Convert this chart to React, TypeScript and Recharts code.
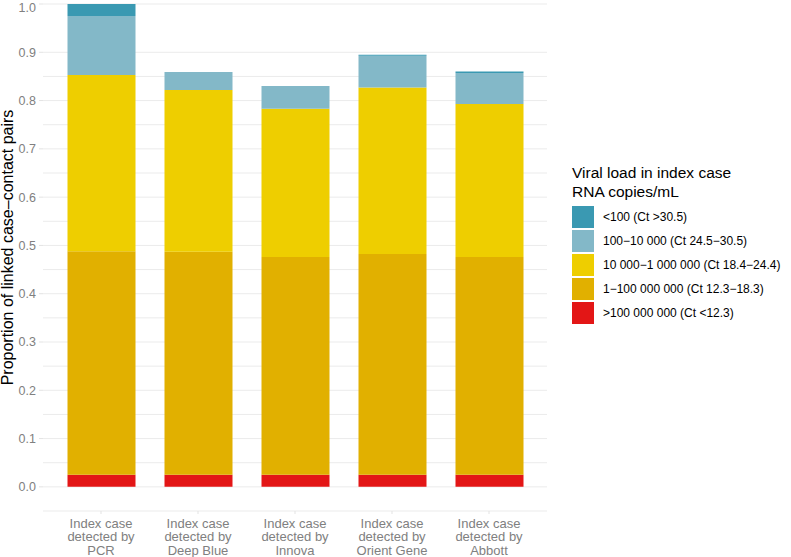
import React from "react"
import { Bar, BarChart, XAxis, YAxis, CartesianGrid, Legend } from "recharts"

// categories (x axis) and stacked shares, bottom to top
const categories = ["PCR", "Deep Blue", "Innova", "Orient Gene", "Abbott"]
const over100M = [0.025, 0.025, 0.025, 0.025, 0.025]
const oneTo100M = [0.463, 0.462, 0.451, 0.457, 0.451]
const tenKTo1M = [0.365, 0.335, 0.307, 0.345, 0.317]
const hundredTo10K = [0.122, 0.037, 0.047, 0.066, 0.064]
const under100 = [0.025, 0, 0, 0.002, 0.003]

const yTicks = [0, 0.1, 0.2, 0.3, 0.4, 0.5, 0.6, 0.7, 0.8, 0.9, 1.0]
const gridTicks = [-0.05, 0, 0.05, 0.1, 0.15, 0.2, 0.25, 0.3, 0.35, 0.4, 0.45, 0.5, 0.55, 0.6, 0.65, 0.7, 0.75, 0.8, 0.85, 0.9, 0.95, 1.0]

const series = [
  { key: "over100M", name: ">100 000 000 (Ct <12.3)", color: "#E31616", values: over100M },
  { key: "oneTo100M", name: "1\u2212100 000 000 (Ct 12.3\u221218.3)", color: "#E1B000", values: oneTo100M },
  { key: "tenKTo1M", name: "10 000\u22121 000 000 (Ct 18.4\u221224.4)", color: "#EECE00", values: tenKTo1M },
  { key: "hundredTo10K", name: "100\u221210 000 (Ct 24.5\u221230.5)", color: "#83B8C8", values: hundredTo10K },
  { key: "under100", name: "<100 (Ct >30.5)", color: "#3A99B2", values: under100 },
]

const data = categories.map((c, i) => {
  const row: any = { name: c }
  series.forEach((s) => (row[s.key] = s.values[i]))
  return row
})

const FONT = "'Liberation Sans', Arial, Helvetica, sans-serif"

const XTick = ({ x, y, payload }: any) => (
  <text x={x} y={y} textAnchor="middle" fill="#808080" fontSize={13} fontFamily={FONT}>
    <tspan x={x} dy={11.5}>Index case</tspan>
    <tspan x={x} dy={13.5}>detected by</tspan>
    <tspan x={x} dy={13.5}>{payload.value}</tspan>
  </text>
)

const YTitle = ({ viewBox }: any) => {
  const cy = viewBox.y + viewBox.height / 2 - 10
  return (
    <text
      x={13}
      y={cy}
      transform={`rotate(-90, 13, ${cy})`}
      textAnchor="middle"
      fill="#000"
      fontSize={16}
      fontFamily={FONT}
    >
      Proportion of linked case{"\u2013"}contact pairs
    </text>
  )
}

const LegendBox = () => (
  <div style={{ fontFamily: FONT, color: "#000", whiteSpace: "nowrap" }}>
    <div style={{ fontSize: 15.5, lineHeight: "19px", marginBottom: 4 }}>
      Viral load in index case
      <br />
      RNA copies/mL
    </div>
    {[...series].reverse().map((s) => (
      <div key={s.key} style={{ display: "flex", alignItems: "center", height: 24 }}>
        <div style={{ width: 22, height: 22, background: s.color, marginRight: 9 }} />
        <span style={{ fontSize: 12 }}>{s.name}</span>
      </div>
    ))}
  </div>
)

export default function App() {
  return (
    <div style={{ width: 791, height: 557, background: "#fff", overflow: "hidden", position: "relative" }}>
      <style>{"body{margin:0}"}</style>
      <BarChart
        width={791}
        height={557}
        data={data}
        margin={{ top: 4, right: 244, bottom: 0, left: 0 }}
        barCategoryGap={0}
      >
        <CartesianGrid vertical={false} stroke="#EBEBEB" horizontalValues={gridTicks} />
        <XAxis
          dataKey="name"
          height={46}
          axisLine={false}
          tickLine={{ stroke: "#E3E3E3" }}
          tickSize={3}
          padding={{ left: 9.5, right: 9.5 }}
          interval={0}
          tick={<XTick />}
        />
        <YAxis
          width={43}
          domain={[-0.05, 1.0]}
          ticks={yTicks}
          tickFormatter={(v: number) => v.toFixed(1)}
          axisLine={false}
          tickLine={{ stroke: "#E3E3E3" }}
          tickSize={4}
          tickMargin={3}
          tick={{ fill: "#808080", fontSize: 12.5, fontFamily: FONT }}
          label={<YTitle />}
          allowDataOverflow
        />
        <Legend
          layout="horizontal"
          verticalAlign="middle"
          align="center"
          content={<LegendBox />}
          wrapperStyle={{ position: "absolute", left: 572, top: 163, width: 219 }}
        />
        {series.map((s) => (
          <Bar
            key={s.key}
            dataKey={s.key}
            name={s.name}
            stackId="a"
            fill={s.color}
            barSize={68}
            isAnimationActive={false}
          />
        ))}
      </BarChart>
    </div>
  )
}
